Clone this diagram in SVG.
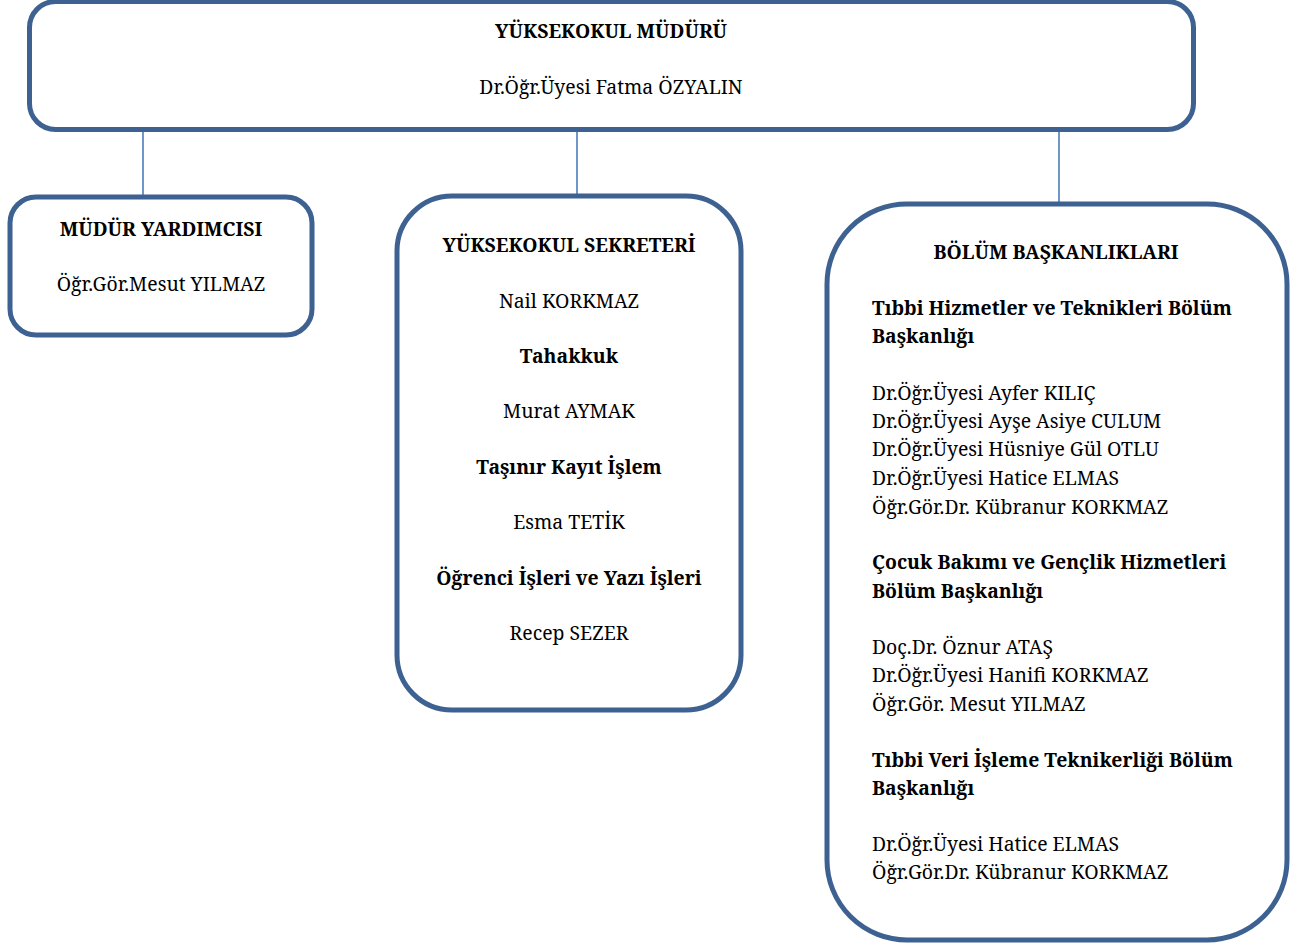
<svg xmlns="http://www.w3.org/2000/svg" width="1290" height="944" viewBox="0 0 1290 944">
<style>
.box{fill:#fff;stroke:#3d6191;stroke-width:5}
.con line{stroke:#4a7ebb;stroke-width:1.6}
text{font-family:"Noto Serif","DejaVu Serif","Liberation Serif",serif;font-size:19.4px;fill:#000}
.b{font-weight:bold}
.c{text-anchor:middle}
</style>
<rect width="1290" height="944" fill="#fff"/>
<g id="connectors" class="con">
<line x1="143" y1="130" x2="143" y2="195"/>
<line x1="577" y1="130" x2="577" y2="195"/>
<line x1="1059" y1="130" x2="1059" y2="204"/>
</g>
<g id="mudur">
<rect class="box" x="29.5" y="1.5" width="1164" height="128" rx="26"/>
<text class="b c" x="611" y="38">YÜKSEKOKUL MÜDÜRÜ</text>
<text class="c" x="611" y="94">Dr.Öğr.Üyesi Fatma ÖZYALIN</text>
</g>
<g id="yardimci">
<rect class="box" x="10" y="197" width="302" height="138" rx="26"/>
<text class="b c" x="161" y="236">MÜDÜR YARDIMCISI</text>
<text class="c" x="161" y="291">Öğr.Gör.Mesut YILMAZ</text>
</g>
<g id="sekreter">
<rect class="box" x="397" y="196" width="344" height="514" rx="55"/>
<text class="b c" x="569" y="252">YÜKSEKOKUL SEKRETERİ</text>
<text class="c" x="569" y="308">Nail KORKMAZ</text>
<text class="b c" x="569" y="363">Tahakkuk</text>
<text class="c" x="569" y="418">Murat AYMAK</text>
<text class="b c" x="569" y="474">Taşınır Kayıt İşlem</text>
<text class="c" x="569" y="529">Esma TETİK</text>
<text class="b c" x="569" y="585">Öğrenci İşleri ve Yazı İşleri</text>
<text class="c" x="569" y="640">Recep SEZER</text>
</g>
<g id="bolum">
<rect class="box" x="827" y="204" width="460" height="736" rx="80"/>
<text class="b c" x="1056" y="259">BÖLÜM BAŞKANLIKLARI</text>
<text class="b" x="872" y="315">Tıbbi Hizmetler ve Teknikleri Bölüm</text>
<text class="b" x="872" y="343">Başkanlığı</text>
<text x="872" y="400">Dr.Öğr.Üyesi Ayfer KILIÇ</text>
<text x="872" y="428">Dr.Öğr.Üyesi Ayşe Asiye CULUM</text>
<text x="872" y="456">Dr.Öğr.Üyesi Hüsniye Gül OTLU</text>
<text x="872" y="485">Dr.Öğr.Üyesi Hatice ELMAS</text>
<text x="872" y="514">Öğr.Gör.Dr. Kübranur KORKMAZ</text>
<text class="b" x="872" y="569">Çocuk Bakımı ve Gençlik Hizmetleri</text>
<text class="b" x="872" y="598">Bölüm Başkanlığı</text>
<text x="872" y="654">Doç.Dr. Öznur ATAŞ</text>
<text x="872" y="682">Dr.Öğr.Üyesi Hanifi KORKMAZ</text>
<text x="872" y="711">Öğr.Gör. Mesut YILMAZ</text>
<text class="b" x="872" y="767">Tıbbi Veri İşleme Teknikerliği Bölüm</text>
<text class="b" x="872" y="795">Başkanlığı</text>
<text x="872" y="851">Dr.Öğr.Üyesi Hatice ELMAS</text>
<text x="872" y="879">Öğr.Gör.Dr. Kübranur KORKMAZ</text>
</g>
</svg>
